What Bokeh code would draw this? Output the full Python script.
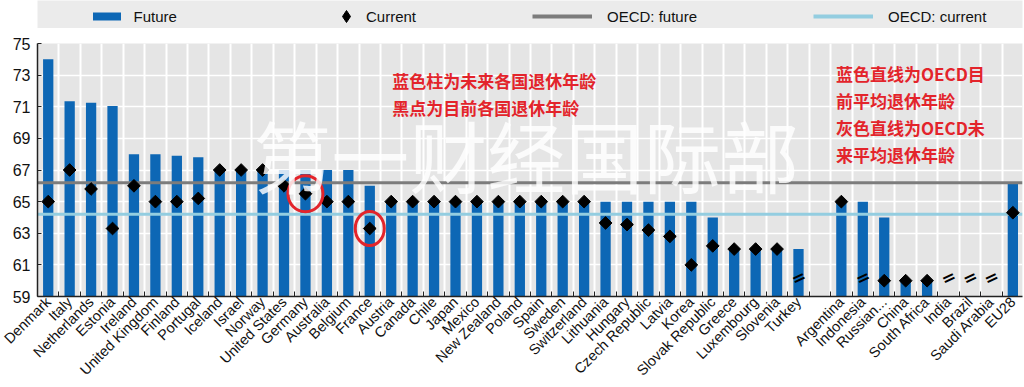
import numpy as np
from bokeh.plotting import figure
from bokeh.models import ColumnDataSource, FixedTicker, Legend, LegendItem, Label, Range1d
from bokeh.layouts import column
from bokeh.embed import file_html
from bokeh.resources import INLINE
from bokeh.core.properties import value

# ---------------- data ----------------
countries = ["Denmark", "Italy", "Netherlands", "Estonia", "Ireland", "United Kingdom",
             "Finland", "Portugal", "Iceland", "Israel", "Norway", "United States",
             "Germany", "Australia", "Belgium", "France", "Austria", "Canada", "Chile",
             "Japan", "Mexico", "New Zealand", "Poland", "Spain", "Sweden", "Switzerland",
             "Lithuania", "Hungary", "Czech Republic", "Latvia", "Korea", "Slovak Republic",
             "Greece", "Luxembourg", "Slovenia", "Turkey", "",
             "Argentina", "Indonesia", "Russian...", "China", "South Africa", "India",
             "Brazil", "Saudi Arabia", "EU28"]
future = [74, 71.35, 71.25, 71.05, 68, 68, 67.9, 67.8, 67, 67, 67, 67,
          67, 67, 67, 66, 65, 65, 65,
          65, 65, 65, 65, 65, 65, 65,
          65, 65, 65, 65, 65, 64,
          62, 62, 62, 62, None,
          65, 65, 64, 60, 60, None,
          None, None, 66.2]
current = [65, 67, 65.8, 63.3, 66, 65, 65, 65.2, 67, 67, 67, 66,
           65.5, 65, 65, 63.3, 65, 65, 65,
           65, 65, 65, 65, 65, 65, 65,
           63.65, 63.55, 63.2, 62.8, 61, 62.2,
           62, 62, 62, None, None,
           65, None, 60, 60, 60, None,
           None, None, 64.3]
offscale_current = ["Turkey", "Indonesia", "India", "Brazil", "Saudi Arabia"]
highlighted = ["Germany", "France"]
oecd_future = 66.2
oecd_current = 64.2
y_ticks = [59, 61, 63, 65, 67, 69, 71, 73, 75]

# ---------------- style ----------------
BLUE = "#0d67b5"
GREY = "#7c7c7c"
LBLUE = "#93cde0"
RED = "#e3242b"
BG = "#e5e5e5"
BAND = "#ebebeb"
BREAK_Y = 60.2
CIRCLE_W = [35, 29]
CIRCLE_H = [36, 34]
W = 1024
LEFT = 37

idx = list(range(len(countries)))
x_start, x_end = -0.5, len(countries) - 0.55
y_start, y_end = y_ticks[0], y_ticks[-1]

bar_src = ColumnDataSource(dict(
    x=[i for i in idx if future[i] is not None],
    top=[future[i] for i in idx if future[i] is not None]))
cur_src = ColumnDataSource(dict(
    x=[i for i in idx if current[i] is not None],
    y=[current[i] for i in idx if current[i] is not None]))
off_idx = [countries.index(c) for c in offscale_current]
hl_idx = [countries.index(c) for c in highlighted]

# ---------------- main figure ----------------
p = figure(width=W, height=359, x_range=Range1d(x_start, x_end), y_range=Range1d(y_start, y_end),
           output_backend="svg", toolbar_location=None,
           min_border_left=LEFT, min_border_right=2, min_border_top=15, min_border_bottom=91,
           background_fill_color=BG, border_fill_color="white", outline_line_color=None)

boundaries = [i - 0.5 for i in range(len(countries) + 1)]
label_idx = [i for i in idx if countries[i] != ""]

p.xgrid.ticker = FixedTicker(ticks=boundaries)
p.xgrid.grid_line_color = "white"
p.xgrid.grid_line_width = 2
p.ygrid.ticker = FixedTicker(ticks=y_ticks)
p.ygrid.grid_line_color = "white"
p.ygrid.grid_line_width = 1.5

p.xaxis.ticker = FixedTicker(ticks=label_idx, minor_ticks=boundaries)
p.xaxis.major_label_overrides = {i: countries[i] for i in label_idx}
p.xaxis.major_label_orientation = np.pi / 4
p.xaxis.major_tick_in = 0
p.xaxis.major_tick_out = 0
p.xaxis.minor_tick_in = 5
p.xaxis.minor_tick_out = 0
p.xaxis.minor_tick_line_color = "#222222"
p.xaxis.major_label_standoff = 3
p.xaxis.major_label_text_font = "Liberation Sans"
p.xaxis.major_label_text_font_size = "14.5px"
p.xaxis.major_label_text_color = "#111111"

p.yaxis.ticker = FixedTicker(ticks=y_ticks)
p.yaxis.major_tick_in = 4
p.yaxis.major_tick_out = 0
p.yaxis.minor_tick_line_color = None
p.yaxis.major_label_standoff = 7
p.yaxis.major_label_text_font = "Liberation Sans"
p.yaxis.major_label_text_font_size = "16px"
p.yaxis.major_label_text_color = "#111111"

for ax in (p.xaxis, p.yaxis):
    ax.axis_line_color = "#222222"
    ax.axis_line_width = 1.5
    ax.major_tick_line_color = "#222222"

p.vbar(x="x", top="top", bottom=y_start, width=0.48, source=bar_src,
       fill_color=BLUE, line_color=None)
p.line(x=[x_start, x_end], y=[oecd_future, oecd_future], line_color=GREY, line_width=3)
p.line(x=[x_start, x_end], y=[oecd_current, oecd_current], line_color=LBLUE, line_width=3)
p.scatter(x="x", y="y", source=cur_src, marker="square", angle=np.pi / 4, size=9,
          fill_color="black", line_color="black")
p.text(x=off_idx, y=[BREAK_Y] * len(off_idx), text=value("="), angle=0.45,
       text_font=value("DejaVu Sans"), text_font_size="17px", text_font_style="bold",
       text_align="center", text_baseline="middle", text_color="black")
p.ellipse(x=hl_idx, y=[current[i] for i in hl_idx], width=CIRCLE_W, height=CIRCLE_H,
          width_units="screen", height_units="screen", fill_alpha=0,
          line_color=RED, line_width=3)

# watermark
p.add_layout(Label(x=22.3, y=68.0, text="第一财经国际部", text_font="Noto Sans CJK SC",
                   text_font_size="78px", text_color="white", text_alpha=0.82,
                   text_align="center", text_baseline="middle"))

def red(x, y, t, size="17px"):
    p.add_layout(Label(x=x, y=y, text=t, text_font="Noto Sans CJK SC", text_font_style="bold",
                       text_font_size=size, text_color=RED, text_align="left",
                       text_baseline="middle"))

red(16.05, 72.67, "蓝色柱为未来各国退休年龄")
red(16.05, 70.96, "黑点为目前各国退休年龄")
red(36.75, 73.1, "蓝色直线为OECD目")
red(36.75, 71.4, "前平均退休年龄")
red(36.75, 69.7, "灰色直线为OECD未")
red(36.75, 68.0, "来平均退休年龄")
red(9.7, 55.1, "德国", "16px")
red(13.1, 55.3, "法国", "16px")
red(37.9, 54.15, "图片来源：OECD", "17px")

# ---------------- legend band ----------------
lf = figure(width=W, height=28, x_range=Range1d(0, W - LEFT), y_range=Range1d(0, 28),
            output_backend="svg", toolbar_location=None,
            min_border_left=LEFT, min_border_right=0, min_border_top=0, min_border_bottom=0,
            background_fill_color=BAND, border_fill_color="white", outline_line_color=None,
            x_axis_location=None, y_axis_location=None)
lf.grid.visible = False

# legend-only renderers (their single point lies outside the visible band)
off = dict(x=[-50], y=[-50])
r_f = lf.vbar(x=off["x"], top=off["y"], width=0.5, fill_color=BLUE, line_color=None)
r_c = lf.scatter(x=off["x"], y=off["y"], marker="diamond", size=10,
                 fill_color="black", line_color="black")
r_of = lf.line(x=off["x"] * 2, y=off["y"] * 2, line_color=GREY, line_width=4)
r_oc = lf.line(x=off["x"] * 2, y=off["y"] * 2, line_color=LBLUE, line_width=4)

def add_leg(label, r, x, gw, gh, standoff):
    h = max(gh, 18)
    lg = Legend(items=[LegendItem(label=label, renderers=[r])], location=(x, 12 - h / 2),
                orientation="horizontal", glyph_width=gw, glyph_height=gh,
                label_standoff=standoff, label_height=18, padding=0, margin=0, spacing=0,
                border_line_color=None, background_fill_alpha=0,
                label_text_font="Liberation Sans", label_text_font_size="15px",
                label_text_color="#111111")
    lf.add_layout(lg)

add_leg("Future", r_f, 51.5, 35, 10, 10)
add_leg("Current", r_c, 294, 30, 30, 5)
add_leg("OECD: future", r_of, 495, 60, 10, 15)
add_leg("OECD: current", r_oc, 776, 60, 10, 15)

layout = column(lf, p, spacing=0)
open("out.html", "w").write(file_html(layout, INLINE))
